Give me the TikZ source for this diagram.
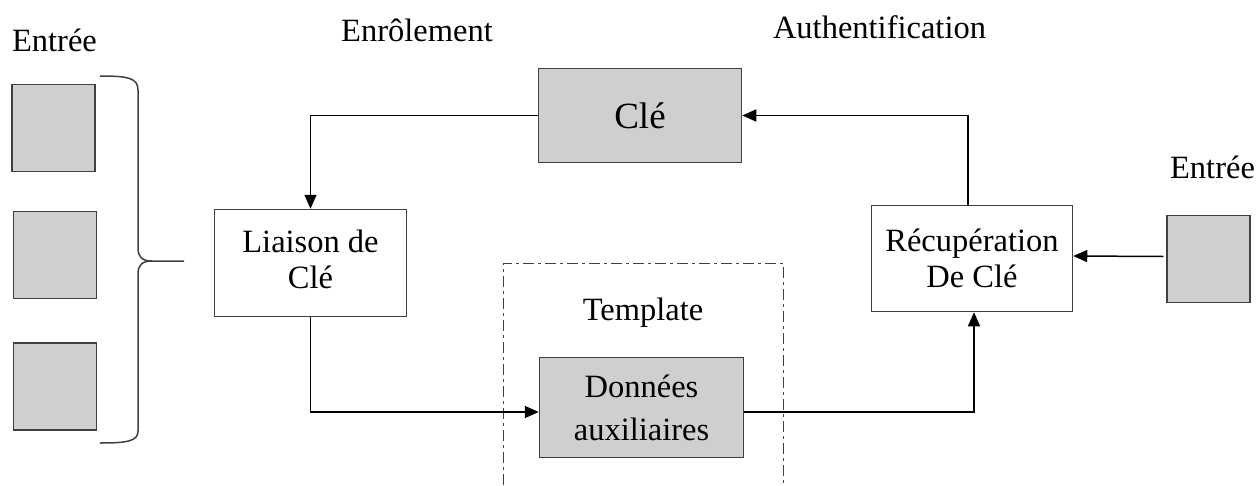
\documentclass[tikz,border=0pt]{standalone}
\usepackage{fontspec}
\setmainfont{Liberation Serif}
\usetikzlibrary{arrows.meta}
\definecolor{boxgray}{RGB}{208,206,209}
\definecolor{edgegray}{RGB}{64,64,64}
\begin{document}
\begin{tikzpicture}[x=1pt,y=-1pt,
  box/.style={draw=edgegray, line width=1.5pt, inner sep=0pt, align=center,
    font=\fontsize{32.5}{36}\selectfont},
  graybox/.style={box, fill=boxgray},
  inbox/.style={draw=edgegray, line width=1.5pt, fill=boxgray,
    minimum width=83pt, minimum height=87pt, inner sep=0pt},
  txt/.style={inner sep=0pt, align=center, font=\fontsize{32.5}{36}\selectfont},
  lbl/.style={anchor=base, inner sep=0pt, font=\fontsize{32.5}{36}\selectfont},
  arr/.style={-{Triangle[length=14pt,width=12pt]}, line width=1.5pt, black},
  brace/.style={draw=edgegray, line width=1.5pt},
  frame/.style={draw=edgegray, line width=1pt,
    dash pattern=on 11pt off 4pt on 3pt off 4pt},
]
\useasboundingbox (0,0) rectangle (1259,485);

% labels
\node[lbl] (entreeL) at (54.5,51) {Entrée};
\node[lbl] (enrol) at (417,41) {Enrôlement};
\node[lbl] (auth) at (879.5,38) {Authentification};
\node[lbl] (entreeR) at (1212.5,178) {Entrée};

% template frame
\draw[frame] (503,485) -- (503,263) -- (783,263) -- (783,485);
\node[lbl] (tmpl) at (643,320) {Template};

% input squares
\node[inbox] (in1) at (53.5,128) {};
\node[inbox] (in2) at (55,255) {};
\node[inbox] (in3) at (55,386.5) {};
\node[inbox] (in4) at (1208.5,259) {};

% brace
\draw[brace] (100,76) .. controls (128,76) and (138,78) .. (138,90) -- (138,248)
  .. controls (138,257) and (142,261) .. (152,261) -- (184,261);
\draw[brace] (152,261) .. controls (142,261) and (138,265) .. (138,274) -- (138,431)
  .. controls (138,441) and (128,443) .. (100,443);

% boxes
\node[graybox, minimum width=203pt, minimum height=94pt,
  font=\fontsize{37}{40}\selectfont] (cle) at (640,115.5) {Clé};
\node[box, minimum width=192pt, minimum height=107pt] (liaison) at (310.5,263) {};
\node[txt] (liaisontxt) at ([yshift=4pt]liaison.center) {Liaison de\\Clé};
\node[box, minimum width=201pt, minimum height=106pt] (recup) at (972,258.5)
  {Récupération\\De Clé};
\node[graybox, minimum width=204pt, minimum height=100pt,
  font=\fontsize{32.5}{43}\selectfont] (donnees) at (641.5,407.5)
  {Données\\auxiliaires};

% connectors
\draw[arr] (cle.west) -| (liaison.north);
\draw[arr] (liaison.south) |- ([yshift=-4.5pt]donnees.west);
\draw[arr] ([yshift=-4.5pt]donnees.east) -| ([xshift=2pt]recup.south);
\draw[arr] ([xshift=-4pt]recup.north) |- (cle.east);
\draw[arr] ([xshift=-3pt,yshift=2.5pt]in4.west) -- ([yshift=2.5pt]recup.east);
\end{tikzpicture}
\end{document}
